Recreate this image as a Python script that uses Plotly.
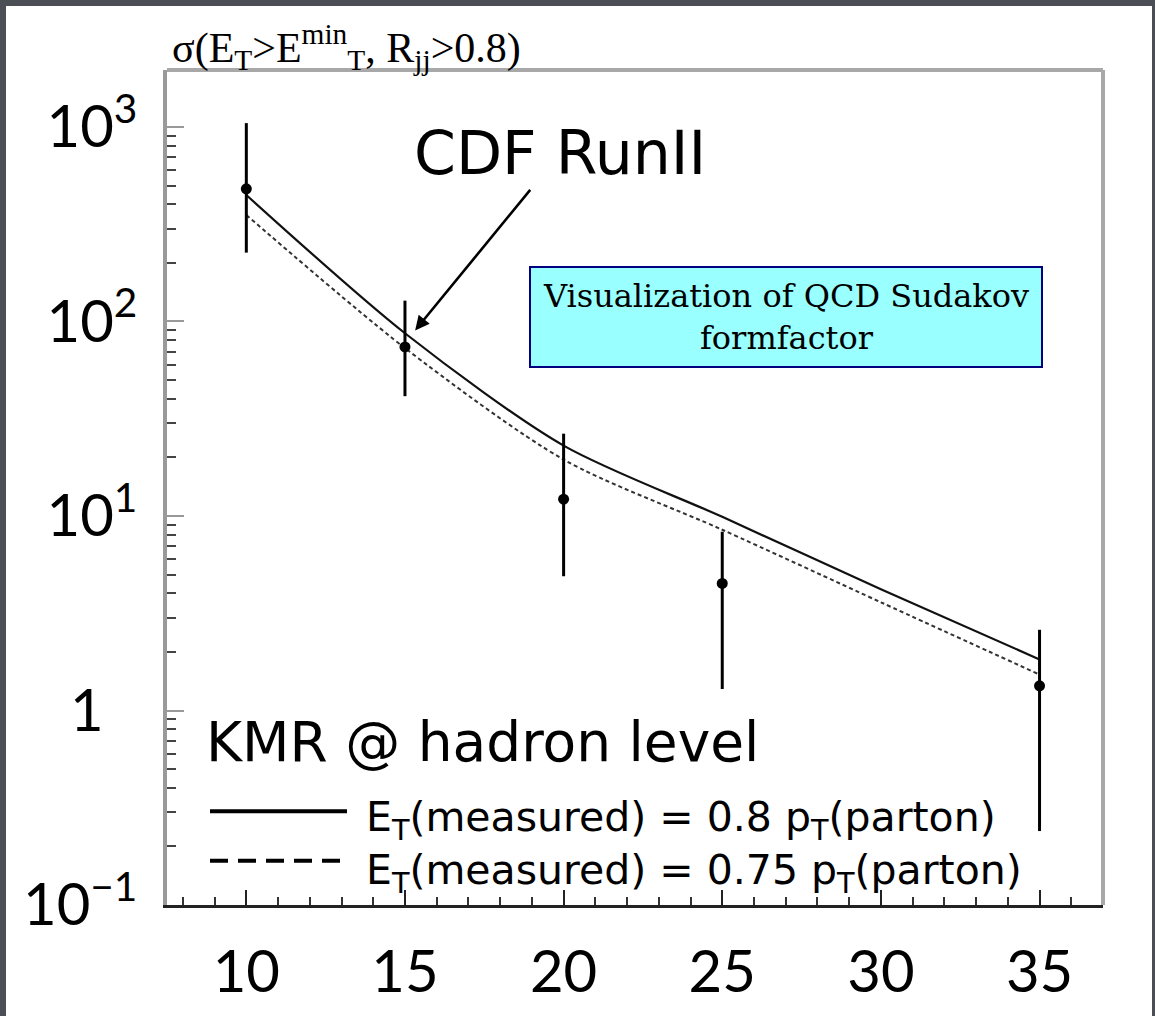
import math
import plotly.graph_objects as go

# ---- data ----
et_min = [10, 15, 20, 25, 35]                 # E_T^min (GeV)
sigma = [481, 74, 12.2, 4.5, 1.34]            # measured cross section
sigma_hi = [1047, 128, 26.5, 8.3, 2.6]        # upper end of error bar
sigma_lo = [226, 41.3, 4.9, 1.29, 0.24]       # lower end of error bar

curve_x = [10, 15, 20, 25, 30, 35]
kmr_08 = [447, 87, 23.0, 9.9, 4.2, 1.83]      # E_T = 0.8 p_T
kmr_075 = [353, 73, 19.5, 8.5, 3.6, 1.53]     # E_T = 0.75 p_T

x_ticks = [10, 15, 20, 25, 30, 35]
y_ticks = [0.1, 1, 10, 100, 1000]
y_ticktext = ["10<sup>−1</sup>", "1\u2007", "10<sup>1</sup>", "10<sup>2</sup>", "10<sup>3</sup>"]

arrow_tip = (15.32, 90)                       # where the "CDF RunII" arrow points

# ---- geometry helpers (plot area in pixels) ----
W, H = 1155, 1016
L, R, T, B = 167, 1103, 70, 917
def px(x):
    return (x - L) / (R - L)
def py(y):
    return (B - y) / (B - T)

err_plus = [h - s for h, s in zip(sigma_hi, sigma)]
err_minus = [s - l for s, l in zip(sigma, sigma_lo)]

fig = go.Figure()
fig.add_trace(go.Scatter(x=curve_x, y=kmr_08, mode="lines",
                         line=dict(color="#111", width=2.2, shape="spline", smoothing=0.8),
                         name="E_T(measured) = 0.8 p_T(parton)", showlegend=False))
fig.add_trace(go.Scatter(x=curve_x, y=kmr_075, mode="lines",
                         line=dict(color="#333", width=2, dash="4px,3px", shape="spline", smoothing=0.8),
                         name="E_T(measured) = 0.75 p_T(parton)", showlegend=False))
fig.add_trace(go.Scatter(x=et_min, y=sigma, mode="markers",
                         marker=dict(color="black", size=11),
                         error_y=dict(type="data", array=err_plus, arrayminus=err_minus,
                                      color="black", thickness=3, width=0),
                         name="CDF RunII", showlegend=False))

tickfont = dict(family="Lato, 'Noto Sans', sans-serif", size=58, color="black")

fig.update_xaxes(range=[7.5, 37.0], tickvals=x_ticks, ticks="inside", ticklen=15,
                 tickwidth=2, tickcolor="#222", showline=True, linecolor="#222",
                 linewidth=3, showgrid=False, zeroline=False, tickfont=tickfont,
                 ticklabelstandoff=14,
                 minor=dict(dtick=1, ticks="inside", ticklen=8, tickwidth=2,
                            tickcolor="#333", showgrid=False))
fig.update_yaxes(type="log", range=[-1, 3.293], tickvals=y_ticks, ticktext=y_ticktext,
                 ticks="inside", ticklen=17, tickwidth=2, tickcolor="#999",
                 showline=True, linecolor="#9a9a9a", linewidth=4, showgrid=False,
                 zeroline=False, tickfont=tickfont, ticklabelstandoff=14,
                 minor=dict(dtick="D1", ticks="inside", ticklen=9, tickwidth=2,
                            tickcolor="#444", showgrid=False))

shapes = [
    # slide background panel
    dict(type="rect", xref="paper", yref="paper", x0=px(6), x1=px(1152), y0=py(1030), y1=py(5),
         fillcolor="white", line=dict(width=0), layer="below"),
    # top & right frame
    dict(type="line", xref="paper", yref="paper", x0=0, x1=1, y0=1, y1=1,
         line=dict(color="#a8a8a8", width=4)),
    dict(type="line", xref="paper", yref="paper", x0=1, x1=1, y0=0, y1=1,
         line=dict(color="#a8a8a8", width=4)),
    # legend samples
    dict(type="line", xref="paper", yref="paper", x0=px(210), x1=px(347), y0=py(822), y1=py(822),
         line=dict(color="black", width=4)),
    dict(type="line", xref="paper", yref="paper", x0=px(210), x1=px(345), y0=py(872), y1=py(872),
         line=dict(color="black", width=4, dash="18px,10px")),
]

sans = "'DejaVu Sans', sans-serif"
annotations = [
    dict(xref="paper", yref="paper", x=px(170), y=py(47), xanchor="left", yanchor="middle",
         showarrow=False,
         text="σ(E<sub>T</sub>>E<sup>min</sup><sub>T</sub>, R<sub>jj</sub>>0.8)",
         font=dict(family="Liberation Serif, serif", size=42, color="black")),
    dict(x=arrow_tip[0], y=math.log10(arrow_tip[1]), ax=145, ay=-177, text="CDF RunII",
         showarrow=True, arrowhead=2, arrowsize=1.1, arrowwidth=2.6, arrowcolor="black",
         standoff=0,
         font=dict(family=sans, size=60, color="black")),
    dict(xref="paper", yref="paper", x=px(786), y=py(321), xanchor="center", yanchor="middle",
         showarrow=False, text="Visualization of QCD Sudakov<br>formfactor",
         font=dict(family="DejaVu Serif, serif", size=32, color="black"),
         bgcolor="#99ffff", bordercolor="#000080", borderwidth=2, borderpad=4,
         width=502, height=90, align="center", valign="middle"),
    dict(xref="paper", yref="paper", x=px(204), y=py(752), xanchor="left", yanchor="middle",
         showarrow=False, text="KMR @ hadron level",
         font=dict(family=sans, size=55, color="black")),
    dict(xref="paper", yref="paper", x=px(364), y=py(858), xanchor="left", yanchor="middle",
         showarrow=False, align="left",
         text="E<sub>T</sub>(measured) = 0.8 p<sub>T</sub>(parton)<br>"
              "E<sub>T</sub>(measured) = 0.75 p<sub>T</sub>(parton)",
         font=dict(family=sans, size=41, color="black")),
]

fig.update_layout(width=W, height=H, margin=dict(l=L, r=W - R, t=T, b=H - B),
                  paper_bgcolor="#4b4e55", plot_bgcolor="white",
                  shapes=shapes, annotations=annotations, showlegend=False)

fig.write_html("out.html")
